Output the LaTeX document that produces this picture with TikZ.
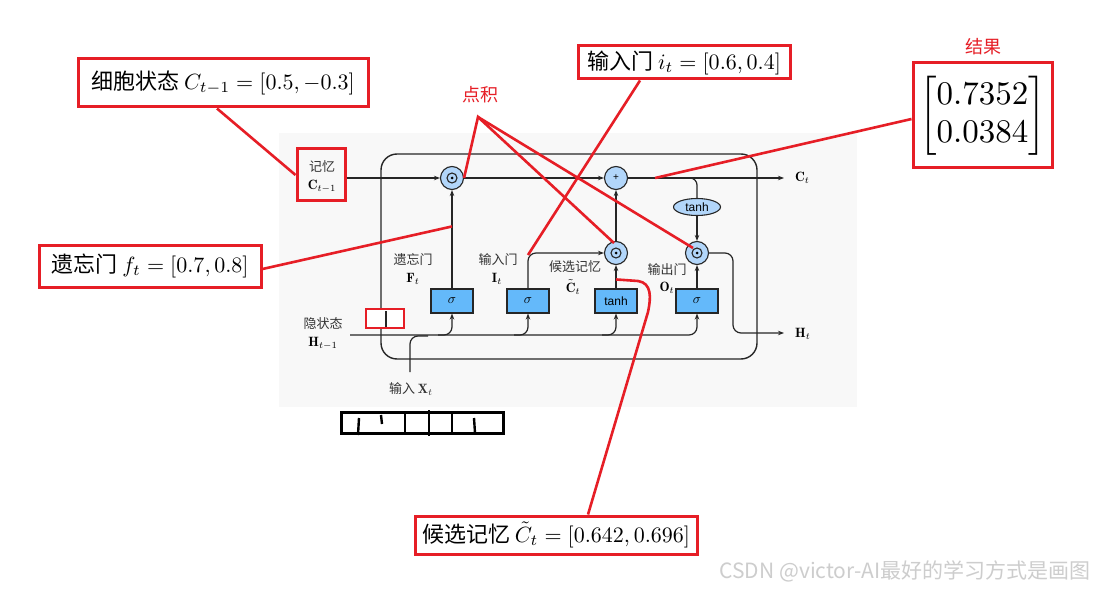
\documentclass[tikz,border=0pt]{standalone}
\usepackage{amsmath}
\usepackage{graphicx}
\usepackage{fontspec}
\newfontfamily\cjk{Noto Sans CJK SC}
\newfontfamily\arialf{Liberation Sans}
\usetikzlibrary{arrows.meta,shapes.geometric,calc}
\definecolor{annred}{RGB}{230,30,38}
\definecolor{bggray}{RGB}{248,248,248}
\definecolor{gateblue}{RGB}{100,185,250}
\definecolor{oplight}{RGB}{178,214,250}
\definecolor{wmgray}{RGB}{205,205,205}
\newcommand{\bigtxt}[1]{\scalebox{2.2}{\fontsize{10}{12}\selectfont #1}}
\newcommand{\ml}[1]{\scalebox{1.35}{\fontsize{10}{12}\selectfont $#1$}}
\tikzset{
 wire/.style={line width=1.2pt, draw=black!85},
 arr/.style={wire, -{Stealth[length=6pt,width=4.5pt]}},
 gatebox/.style={draw=black!85, line width=1.1pt, fill=gateblue, minimum width=42pt, minimum height=24pt, inner sep=0pt},
 opcircle/.style={circle, draw=black!85, line width=1.1pt, fill=oplight, minimum size=23pt, inner sep=0pt},
 dotop/.style={opcircle, path picture={\draw[line width=1.1pt, fill=none] (path picture bounding box.center) circle (5pt); \fill[black] (path picture bounding box.center) circle (1.5pt);}},
 cjklab/.style={font=\cjk\fontsize{13}{15}\selectfont, text=black!80, inner sep=0pt},
 mlab/.style={inner sep=0pt},
 annbox/.style={draw=annred, line width=3pt, inner sep=0pt},
 annline/.style={draw=annred, line width=2.6pt},
 anntext/.style={font=\cjk\fontsize{18}{20}\selectfont, text=annred, inner sep=0pt},
}
\begin{document}
\begin{tikzpicture}[x=1pt,y=-1pt]
\useasboundingbox (0,0) rectangle (1101,591);
\fill[white] (0,0) rectangle (1101,591);
\fill[bggray] (279,133) rectangle (857,407);
\draw[line width=1.4pt, draw=black!85, rounded corners=16pt] (381,154) rectangle (757,359);

% operators
\node[dotop] (mf) at (452,178) {};
\node[opcircle, font=\arialf\fontsize{10}{10}\selectfont] (plus) at (616,178) {+};
\node[dotop] (mc) at (616,253) {};
\node[dotop] (mo) at (697,253) {};
\node[ellipse, draw=black!85, line width=1.1pt, fill=oplight, minimum width=47pt, minimum height=17pt, inner sep=0pt, font=\arialf\fontsize{12}{12}\selectfont] (th) at (697,207) {tanh};

% gates
\node[gatebox] (gf) at (452,301) {\ml{\sigma}};
\node[gatebox] (gi) at (528,301) {\ml{\sigma}};
\node[gatebox, font=\arialf\fontsize{12}{12}\selectfont] (gc) at (616,301) {tanh};
\node[gatebox] (go) at (697,301) {\ml{\sigma}};

% labels
\node[cjklab] (lf) at (413,260) {遗忘门};
\node[mlab] (lF) at (413,279) {\ml{\mathbf{F}_t}};
\node[cjklab] (li) at (498,260) {输入门};
\node[mlab] (lI) at (497,279) {\ml{\mathbf{I}_t}};
\node[cjklab] (lc) at (575,267) {候选记忆};
\node[mlab] (lC) at (573,287) {\ml{\tilde{\mathbf{C}}_t}};
\node[cjklab] (lo) at (667,270) {输出门};
\node[mlab] (lO) at (667,288) {\ml{\mathbf{O}_t}};
\node[cjklab] (lh) at (323,324) {隐状态};
\node[mlab] (lH) at (323,343) {\ml{\mathbf{H}_{t-1}}};
\node[cjklab] (lx) at (411,389) {输入 \ml{\mathbf{X}_t}};

% memory input
\node[annbox, minimum width=48pt, minimum height=52pt] (mem) at (321,175) {};
\node[cjklab] (lm) at (322,167) {记忆};
\node[mlab] (lM) at (322,186) {\ml{\mathbf{C}_{t-1}}};

% wires
\draw[arr] (mem.east |- mf) -- (mf.west);
\draw[arr] (mf.east) -- (plus.west);
\coordinate (ctend) at (784,178);
\draw[arr] (plus.east) -- (ctend);
\node[mlab, anchor=west] (lct) at (795,178) {\ml{\mathbf{C}_t}};
\draw[wire, rounded corners=7pt] (680,178) -- (th.north |- plus) -- (th.north);
\draw[arr] (th.south) -- (mo.north);
\coordinate (htend) at (784,333);
\draw[arr, rounded corners=8pt] (mo.east) -- (733,253) -- (733,333) -- (htend);
\node[mlab, anchor=west] (lht) at (795,334) {\ml{\mathbf{H}_t}};
\draw[arr] (gc.north) -- (mc.south);
\draw[arr] (mc.north) -- (plus.south);
\draw[arr, rounded corners=8pt] (gi.north) -- (gi.north |- mc) -- (mc.west);
\draw[arr] (gf.north) -- (mf.south);
\draw[arr] (go.north) -- (mo.south);

\coordinate (hin) at (350,335);
\draw[arr, rounded corners=8pt] (hin) -- (go.south |- hin) -- (go.south);
\foreach \g in {gf,gi,gc} \draw[arr, rounded corners=8pt] ($(\g.south |- hin)+(-14,0)$) -- (\g.south |- hin) -- (\g.south);
\coordinate (xin) at (410,372);
\draw[wire, rounded corners=8pt] (xin) -- (410,336) -- (428,336);

% small red square
\node[draw=annred, line width=2pt, fill=white, minimum width=38pt, minimum height=19pt, inner sep=0pt] (sq) at (385,318.5) {};
\draw[wire] (386,311) -- (386,327);

% bottom vector box
\node[draw, line width=3pt, minimum width=162pt, minimum height=21pt, inner sep=0pt] (vec) at (422,422.5) {};
\draw[line width=2.4pt] (359,418) -- (358,435);
\draw[line width=2.4pt] (381,415) -- (382,424);
\draw[line width=2.4pt] (405,412) -- (405,433);
\draw[line width=2.4pt] (429,410) -- (429,436);
\draw[line width=2.4pt] (452,412) -- (452,433);
\draw[line width=2.4pt] (474,418) -- (475,433);

% annotations
\node[annbox, minimum width=290pt, minimum height=48pt] (bc) at (223,83) {\bigtxt{\cjk 细胞状态 $C_{t-1}=[0.5,-0.3]$}};
\draw[annline] ($(bc.south)+(-6,0)$) -- (mem.west);

\node[anntext] (dj) at (480,95) {点积};
\coordinate (apex) at (478,117);
\draw[annline] (mf.east) -- (apex) -- ($(mc.center)+(-2,-10)$);
\draw[annline] (apex) -- ($(mo.center)+(-4,-5)$);

\node[annbox, minimum width=212pt, minimum height=33pt] (bi) at (684,62.5) {\bigtxt{\cjk 输入门 $i_t=[0.6,0.4]$}};
\draw[annline] ($(bi.south)+(-44,0)$) -- ($(gi.north |- mc)+(0,2)$);

\node[anntext] (jg) at (983,47) {结果};
\node[annbox, minimum width=139pt, minimum height=105pt] (br) at (982.5,115.5) {\scalebox{3.3}{\fontsize{10}{11.6}\selectfont $\begin{bmatrix}0.7352\\0.0384\end{bmatrix}$}};
\draw[annline] ($(br.west)+(0,3.5)$) -- ($(plus.east)+(27,0)$);

\node[annbox, minimum width=222pt, minimum height=42pt] (bf) at (150,266) {\bigtxt{\cjk 遗忘门 $f_t=[0.7,0.8]$}};
\draw[annline] ($(bf.east)+(0,3)$) -- ($(gf.north)+(0,-62)$);

\node[annbox, minimum width=282pt, minimum height=38pt] (bt) at (556,535) {\bigtxt{\cjk 候选记忆 $\tilde{C}_t=[0.642,0.696]$}};
\draw[annline] ($(gc.north)+(0,-9)$) -- (638,281) .. controls (652,283) and (651,298) .. (648,312) -- ($(bt.north)+(32,0)$);

\node[font=\cjk\fontsize{21}{23}\selectfont, text=wmgray] (wm) at (905,571) {CSDN @victor-AI最好的学习方式是画图};
\end{tikzpicture}
\end{document}
